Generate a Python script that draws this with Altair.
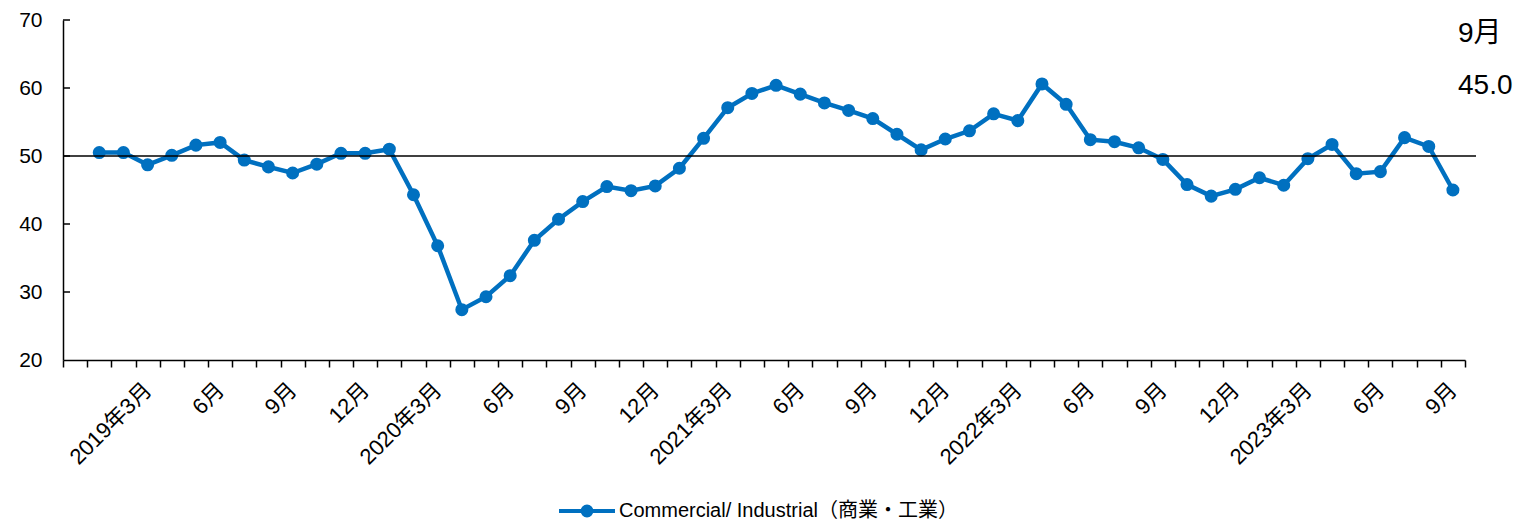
import json
import altair as alt
import pandas as pd

FONT = "Liberation Sans, Arial, Noto Sans CJK JP, sans-serif"
BLUE = "#0070C0"
SERIES = "Commercial/ Industrial（商業・工業）"

# Monthly index, 2019-01 .. 2023-09
years = [2019] * 12 + [2020] * 12 + [2021] * 12 + [2022] * 12 + [2023] * 9
months = list(range(1, 13)) * 4 + list(range(1, 10))
values = [
    50.5, 50.5, 48.7, 50.1, 51.6, 52.0, 49.4, 48.4, 47.5, 48.8, 50.4, 50.4,
    51.0, 44.3, 36.8, 27.4, 29.3, 32.4, 37.6, 40.7, 43.3, 45.5, 44.9, 45.6,
    48.2, 52.6, 57.1, 59.2, 60.4, 59.1, 57.8, 56.7, 55.5, 53.2, 50.9, 52.5,
    53.7, 56.2, 55.2, 60.6, 57.6, 52.4, 52.1, 51.2, 49.5, 45.8, 44.1, 45.1,
    46.8, 45.7, 49.6, 51.7, 47.4, 47.7, 52.7, 51.4, 45.0,
]
y_ticks = [20, 30, 40, 50, 60, 70]
ref_value = [50]

# tick labels: one empty leading category, then every 3rd month labelled
tick_labels = [""]
for yr, m in zip(years, months):
    if m == 3:
        tick_labels.append(f"{yr}年3月")
    elif m % 3 == 0:
        tick_labels.append(f"{m}月")
    else:
        tick_labels.append("")

annot_month = f"{months[-1]}月"
annot_value = f"{values[-1]:.1f}"

df = pd.DataFrame({
    "idx": list(range(1, len(values) + 1)),
    "value": values,
    "series": [SERIES] * len(values),
})

W, H = 1402, 340

x_enc = alt.X(
    "idx:O",
    scale=alt.Scale(type="band", domain=list(range(len(tick_labels))),
                    paddingInner=0, paddingOuter=0),
    axis=alt.Axis(
        title=None,
        labelExpr=json.dumps(tick_labels, ensure_ascii=False) + "[datum.value]",
        labelAngle=-45, labelAlign="right", labelBaseline="middle",
        labelPadding=19, labelOverlap=False, labelFontSize=22,
        labelFont=FONT, labelColor="black",
        tickBand="extent", ticks=True, tickSize=7, tickColor="black",
        tickWidth=1.5, domainColor="black", domainWidth=1.5, grid=False,
    ),
)
y_scale = alt.Scale(domain=[20, 70], nice=False, zero=False)
y_enc = alt.Y(
    "value:Q", scale=y_scale,
    axis=alt.Axis(title=None, values=y_ticks, ticks=False, tickSize=0,
                  labelPadding=21, labelFontSize=21, labelFont=FONT,
                  labelColor="black", domainColor="black", domainWidth=1.5,
                  grid=False),
)

legend_path = ("M-1,0L1,0M-0.16,0A0.16,0.16 0 1,1 0.16,0"
               "A0.16,0.16 0 1,1 -0.16,0Z")
color_enc = alt.Color(
    "series:N",
    scale=alt.Scale(domain=[SERIES], range=[BLUE]),
    legend=alt.Legend(
        title=None, orient="none", legendX=494, legendY=461,
        direction="horizontal", symbolType=legend_path, symbolSize=3136,
        symbolStrokeWidth=4, symbolFillColor=BLUE, symbolStrokeColor=BLUE,
        labelFontSize=20, labelFont=FONT, labelColor="black", labelLimit=0,
        labelOffset=2,
    ),
)

base = alt.Chart(df)
line = base.mark_line(strokeWidth=4.5).encode(x=x_enc, y=y_enc, color=color_enc)
pts = base.mark_point(filled=True, size=170, opacity=1).encode(
    x=x_enc, y=y_enc, color=color_enc)

ref = alt.Chart(pd.DataFrame({"value": ref_value})).mark_rule(
    color="black", strokeWidth=1.5).encode(
    y=alt.Y("value:Q"), x=alt.value(0), x2=alt.value(W + 11))

yt = alt.Chart(pd.DataFrame({"value": y_ticks[1:]})).mark_rule(
    color="black", strokeWidth=1.5).encode(
    y=alt.Y("value:Q"), x=alt.value(0), x2=alt.value(7))

ann1 = alt.Chart(pd.DataFrame({"t": [annot_month]})).mark_text(
    align="left", baseline="alphabetic", fontSize=28, font=FONT,
    color="black").encode(text="t:N", x=alt.value(1395), y=alt.value(22))
ann2 = alt.Chart(pd.DataFrame({"t": [annot_value]})).mark_text(
    align="left", baseline="alphabetic", fontSize=28, font=FONT,
    color="black").encode(text="t:N", x=alt.value(1395), y=alt.value(74))

chart = alt.layer(line, pts, ref, yt, ann1, ann2).properties(
    width=W, height=H,
    autosize=alt.AutoSizeParams(type="none"),
    padding={"left": 55, "top": 12, "right": 50, "bottom": 163},
).configure_view(stroke=None).configure_axis(grid=False)

chart.save("out.html", embed_options={"renderer": "svg", "actions": False})
